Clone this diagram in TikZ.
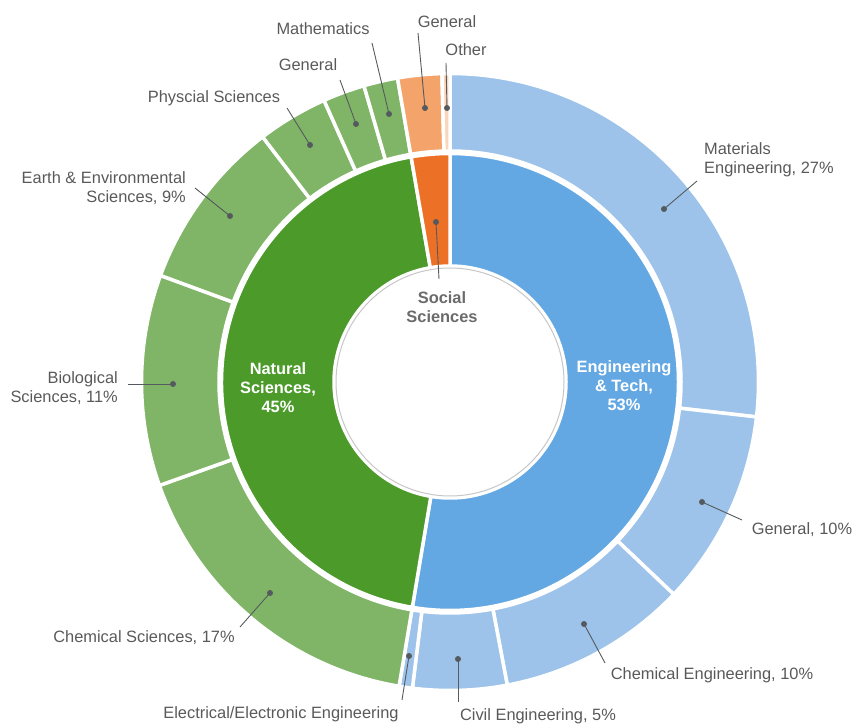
\documentclass[tikz,border=0pt]{standalone}
\usepackage{fontspec}
\setmainfont{Liberation Sans}
\definecolor{txt}{HTML}{595959}
\definecolor{dotc}{HTML}{555A5E}
\definecolor{blueIn}{HTML}{63A8E3}
\definecolor{blueOut}{HTML}{9DC3EA}
\definecolor{greenIn}{HTML}{4B9A2A}
\definecolor{greenOut}{HTML}{80B567}
\definecolor{orangeIn}{HTML}{EC7025}
\definecolor{orangeOut}{HTML}{F4A36B}
\definecolor{otherOut}{HTML}{F9D5BC}
\newcommand\annsec[5]{\fill[#5, draw=white, line width=3.5pt, line join=round] (#1:#4) arc[start angle=#1, end angle=#2, radius=#4] -- (#2:#3) arc[start angle=#2, end angle=#1, radius=#3] -- cycle;}
\tikzset{
  lbl/.style={text=txt, font=\fontsize{16.4}{19.5}\selectfont, inner sep=0pt},
  inlbl/.style={text=white, font=\fontsize{16.4}{19}\selectfont\bfseries, inner sep=0pt, align=center},
  dotn/.style={circle, fill=dotc, inner sep=0pt, minimum size=6pt},
  lead/.style={draw=dotc, line width=0.9pt}
}
\begin{document}
\begin{tikzpicture}[x=1pt, y=1pt]
\useasboundingbox (0,0) rectangle (853,727);
\begin{scope}[shift={(450,345)}]
  % outer ring
  \annsec{90}{-6.5}{231}{308.5}{blueOut}
  \annsec{-6.5}{-43.5}{231}{308.5}{blueOut}
  \annsec{-43.5}{-79.3}{231}{308.5}{blueOut}
  \annsec{-79.3}{-97}{231}{308.5}{blueOut}
  \annsec{-97}{-99.5}{231}{308.5}{blueOut}
  \annsec{-99.5}{-160.4}{231}{308.5}{greenOut}
  \annsec{-160.4}{-200.2}{231}{308.5}{greenOut}
  \annsec{-200.2}{-232.6}{231}{308.5}{greenOut}
  \annsec{-232.6}{-245.9}{231}{308.5}{greenOut}
  \annsec{-245.9}{-253.8}{231}{308.5}{greenOut}
  \annsec{-253.8}{-260.2}{231}{308.5}{greenOut}
  \annsec{99.8}{91.5}{231}{308.5}{orangeOut}
  \annsec{91.5}{90}{231}{308.5}{otherOut}
  % inner ring
  \annsec{90}{-99.5}{116}{228.5}{blueIn}
  \annsec{-99.5}{-260.2}{116}{228.5}{greenIn}
  \annsec{99.8}{90}{116}{228.5}{orangeIn}
  % hole
  \draw[draw=black!22, fill=white, line width=1pt] (0,0) circle[radius=114];
\end{scope}

% inner labels
\node[inlbl] (eng) at (624,341) {Engineering\\\& Tech,\\53\%};
\node[inlbl] (nat) at (278,339) {Natural\\Sciences,\\45\%};
\node[lbl, font=\fontsize{16.4}{19}\selectfont\bfseries, text=black!58, align=center] (soc) at (442,420) {Social\\Sciences};

% outer labels
\node[lbl, anchor=west, align=left] (mat) at (704,567) {Materials\\Engineering, 27\%};
\node[lbl] (gen10) at (802,197) {General, 10\%};
\node[lbl] (cheng) at (712,52) {Chemical Engineering, 10\%};
\node[lbl] (civ) at (538,11) {Civil Engineering, 5\%};
\node[lbl] (elec) at (281,13) {Electrical/Electronic Engineering};
\node[lbl] (chsci) at (144,89) {Chemical Sciences, 17\%};
\node[lbl, anchor=east, align=right] (bio) at (118,339) {Biological\\Sciences, 11\%};
\node[lbl, anchor=east, align=right] (earth) at (186,539) {Earth \& Environmental\\Sciences, 9\%};
\node[lbl] (phys) at (214,629) {Physcial Sciences};
\node[lbl] (gennat) at (308,662) {General};
\node[lbl] (math) at (323,698) {Mathematics};
\node[lbl] (gensoc) at (447,705) {General};
\node[lbl] (oth) at (466,677) {Other};

% dots
\node[dotn] (dmat) at (664,518) {};
\node[dotn] (dgen10) at (702,225) {};
\node[dotn] (dcheng) at (584,103) {};
\node[dotn] (dciv) at (458,68) {};
\node[dotn] (delec) at (409,71) {};
\node[dotn] (dchsci) at (270,134) {};
\node[dotn] (dbio) at (173,343) {};
\node[dotn] (dearth) at (230,511) {};
\node[dotn] (dphys) at (310,582) {};
\node[dotn] (dgennat) at (356,603) {};
\node[dotn] (dmath) at (389,613) {};
\node[dotn] (dgensoc) at (425,619) {};
\node[dotn] (doth) at (447,619) {};
\node[dotn] (dsoc) at (436,505) {};

% leader ends
\coordinate (emat) at (697,546);
\coordinate (egen10) at (742,207);
\coordinate (echeng) at (605,64);
\coordinate (eciv) at (458,25);
\coordinate (eelec) at (402,27);
\coordinate (echsci) at (240,100);
\coordinate (ebio) at (128,343);
\coordinate (eearth) at (195,539);
\coordinate (ephys) at (287,619);
\coordinate (egennat) at (340,647);
\coordinate (emath) at (372,684);
\coordinate (egensoc) at (418,694);
\coordinate (eoth) at (446,664);
\coordinate (esoc) at (439,448);

\foreach \n in {mat,gen10,cheng,civ,elec,chsci,bio,earth,phys,gennat,math,gensoc,oth,soc}
  \draw[lead] (d\n.center) -- (e\n);
\end{tikzpicture}
\end{document}
